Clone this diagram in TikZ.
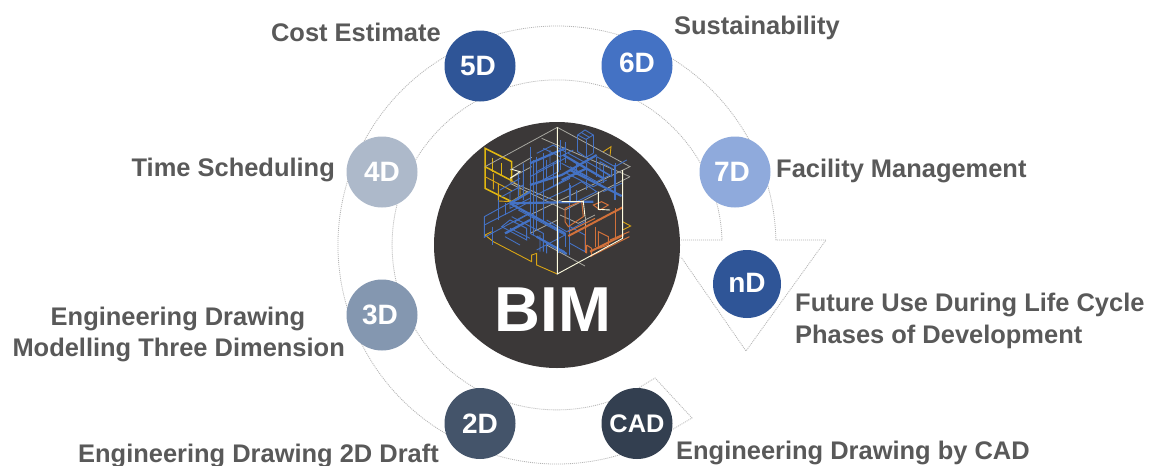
\documentclass[tikz,border=0pt]{standalone}
\usepackage{fontspec}
\setmainfont{Liberation Sans}
\definecolor{txt}{HTML}{595959}
\definecolor{hub}{HTML}{3B3838}
\definecolor{ringc}{HTML}{B5B5B5}
\definecolor{bl}{HTML}{4472C4}
\definecolor{yl}{HTML}{D9A514}
\definecolor{ora}{HTML}{D2713A}
\definecolor{fr}{HTML}{A8A8A0}
\definecolor{c5}{HTML}{2F5597}
\definecolor{c7}{HTML}{8FAADC}
\definecolor{c4}{HTML}{ADB9CA}
\definecolor{c3}{HTML}{8497B0}
\definecolor{c2}{HTML}{44546A}
\definecolor{cc}{HTML}{333F50}
\newcommand{\dt}[3]{\raisebox{\dimexpr #2pt*2\relax}{\kern\dimexpr #1pt*2\relax #3}}
\tikzset{
  lab/.style={font=\fontsize{25.45}{28}\selectfont\bfseries,text=txt,inner sep=0pt,anchor=base west},
  labr/.style={lab,anchor=base east},
  dim/.style={circle,minimum size=71pt,inner sep=0pt,font=\fontsize{28}{30}\selectfont\bfseries,text=white},
  ring/.style={draw=ringc,line width=0.8pt,dash pattern=on 1pt off 1pt},
  pb/.style={draw=bl,line width=0.9pt},
  pB/.style={draw=bl,line width=2.2pt},
  py/.style={draw=yl,line width=0.9pt},
  pY/.style={draw=yl!80!yellow,line width=1.5pt},
  po/.style={draw=ora,line width=1pt},
  pO/.style={draw=ora,line width=2pt},
  pf/.style={draw=fr,line width=0.8pt},
  pw/.style={draw=white!88!yellow,line width=0.9pt}
}
\begin{document}
\begin{tikzpicture}[x=1pt,y=1pt,yscale=-1]
\useasboundingbox (0,0) rectangle (1149,466);
\fill[white] (0,0) rectangle (1149,466);
% cycle arrow outline
\draw[ring] (681,240) -- (722,240) arc[start angle=358.3,end angle=63,radius=165pt] -- (655,378) -- (692,418) -- (645,445.5) arc[start angle=66.3,end angle=358.7,radius=219pt] -- (826,240) -- (746,351) -- (681,257);
% hub
\node[circle,fill=hub,minimum size=246pt,inner sep=0pt] (hub) at (557,245) {};
\begin{scope}[shift={(430,120)},scale=1/3]
% yellow
\draw[py] (165,345)--(190,365)--(305,425)--(305,405)--(320,400)--(320,435)--(382,462);
\draw[py] (165,345)--(185,335);
\draw[py] (520,95)--(543,80)--(540,108);
\draw[py] (578,305)--(602,318)--(578,330);
\draw[pY] (165,85)--(245,125)--(245,182)--(165,140)--cycle;
\draw[pY] (165,140)--(165,205)--(245,245)--(295,215);
\draw[py] (245,182)--(270,200)--(270,225);
\draw[pY] (188,115)--(188,155) (215,130)--(215,165);
\draw[py] (205,190)--(205,243)--(245,245);
\draw[py] (190,160)--(190,208) (165,170)--(245,212);
% frame
\draw[pf] (165,140)--(382,22)--(600,140)--(382,245)--(240,185);
\draw[pf] (600,170)--(405,270)--(240,190);
\draw[pf] (382,245)--(300,285) (240,150)--(305,112);
\draw[pf] (240,175)--(305,140);
\draw[pf] (335,55)--(600,170);
\draw[pf] (350,375)--(465,438);
\draw[pf] (382,300)--(300,340);
\draw[pf] (465,290)--(465,330);
\draw[pf] (390,285)--(445,310)--(495,285);
% blue thin
\draw[pb] (300,80)--(300,340) (320,110)--(320,330) (340,100)--(340,305) (310,120)--(310,345);
\draw[pb] (390,60)--(390,150) (405,65)--(405,130) (418,190)--(418,405);
\draw[pb] (443,45)--(465,30)--(490,45)--(468,58)--cycle;
\draw[pb] (443,45)--(443,95) (468,58)--(468,112) (490,45)--(490,100);
\draw[pb] (443,95)--(468,112)--(490,100);
\draw[pb] (455,38)--(478,52);
\draw[pb] (163,290)--(163,352)--(300,278) (163,290)--(300,215) (163,315)--(300,245);
\draw[pb] (188,320)--(188,375) (205,240)--(205,300) (225,250)--(225,285);
\draw[pb] (215,320)--(290,360)--(290,325)--(240,300)--cycle;
\draw[pb] (230,340)--(300,300) (225,350)--(270,375) (240,325)--(300,355);
\draw[pb] (245,290)--(340,340)--(340,395);
\draw[pb] (300,340)--(405,395);
\draw[pb] (265,270)--(405,345) (255,305)--(300,280);
\draw[pb] (350,300)--(410,335)--(465,305);
\draw[pb] (320,190)--(385,155)--(385,120)--(320,155)--cycle;
\draw[pb] (350,210)--(420,175) (360,130)--(360,90);
\draw[pb] (320,100)--(370,75)--(405,95) (340,85)--(390,110)--(430,90);
\draw[pb] (300,170)--(405,115) (320,225)--(440,160) (345,240)--(420,205);
\draw[pb] (395,130)--(470,170)--(470,130)--(415,100);
\draw[pb] (420,140)--(500,185)--(540,165)--(470,125);
\draw[pb] (430,125)--(520,175) (410,160)--(490,200)--(530,180);
\draw[pb] (440,165)--(440,125) (470,180)--(470,210);
\draw[pb] (500,110)--(500,170) (520,130)--(520,190) (555,130)--(555,170);
\draw[pb] (500,110)--(555,140)--(590,120) (510,125)--(545,145)--(545,170)--(510,150)--cycle;
\draw[pb] (400,215)--(455,185)--(500,215)--(440,245);
\draw[pb] (350,180)--(350,120) (420,245)--(420,195) (370,130)--(370,200);
\draw[pb] (210,210)--(270,175) (215,230)--(280,195) (265,160)--(265,240) (280,130)--(280,240);
\draw[pb] (240,215)--(240,265)--(300,235);
\draw[pb] (420,370)--(465,395)--(465,345)--(420,320);
\draw[pb] (405,380)--(405,340) (385,330)--(385,400);
\draw[pb] (320,390)--(405,345) (350,400)--(350,365) (330,345)--(330,395);
\draw[pb] (520,215)--(575,190) (440,210)--(440,250);
% blue thick
\draw[pB] (300,130)--(405,85);
\draw[pB] (300,195)--(395,165)--(500,105);
\draw[pB] (420,150)--(575,228);
\draw[pB] (400,105)--(520,175);
\draw[pB] (240,250)--(405,340);
\draw[pB] (240,250)--(490,245);
\draw[pB] (320,350)--(410,402);
\draw[pB] (240,250)--(300,215);
\draw[pB] (555,135)--(555,240);
\draw[pB] (395,180)--(470,145);
\draw[pB] (225,340)--(300,300);
% orange
\draw[po] (405,265)--(455,243)--(460,290)--(415,320)--(405,305)--cycle;
\draw[pO] (415,348)--(578,262);
\draw[po] (415,335)--(495,295);
\draw[po] (490,255)--(515,245)--(535,255)--(510,270)--cycle;
\draw[po] (465,320)--(465,400) (495,320)--(495,380) (555,265)--(555,360);
\draw[po] (505,335)--(535,350)--(535,375)--(505,385)--cycle;
\draw[po] (470,375)--(485,385)--(485,410) (470,375)--(470,400);
\draw[pO] (480,395)--(580,345);
\draw[po] (480,410)--(598,350) (540,360)--(598,335);
% frame whites
\draw[pw] (382,22)--(382,462)--(578,355)--(578,150);
\draw[pw] (505,215)--(505,268)--(540,270) (395,245)--(460,245)--(465,290);
\draw[pw] (245,148)--(270,155)--(240,175);
\end{scope}
\node[font=\fontsize{63.5}{66}\selectfont\bfseries,text=white,inner sep=0pt,anchor=base] (bim) at (553,331) {BIM};
% dimension circles
\node[dim,fill=c5] (d5) at (480,66) {\dt{-2}{-2}{5D}};
\node[dim,fill=bl] (d6) at (637,65.5) {\dt{0}{2.5}{6D}};
\node[dim,fill=c7] (d7) at (735,172) {\dt{-3}{0}{7D}};
\node[dim,fill=c4] (d4) at (382,172) {\dt{0}{-3}{4D}};
\node[dim,fill=c3] (d3) at (382,315) {\dt{-2}{-1}{3D}};
\node[dim,fill=c2] (d2) at (480,423.5) {\dt{0}{-4.5}{2D}};
\node[dim,fill=cc,font=\fontsize{25.4}{28}\selectfont\bfseries] (dc) at (637,423.5) {\dt{0}{-2.5}{CAD}};
\node[dim,minimum size=68pt,fill=c5] (dn) at (747,284) {\dt{0}{1}{nD}};
% labels
\node[labr] (l5) at (441,41) {Cost Estimate};
\node[lab] (l6) at (674,34) {Sustainability};
\node[lab] (l7) at (776,177) {Facility Management};
\node[labr] (l4) at (335,176) {Time Scheduling};
\node[lab,anchor=base] (l3a) at (178,325) {Engineering Drawing};
\node[labr] (l3b) at (345,356) {Modelling Three Dimension};
\node[labr] (l2) at (439,462.5) {Engineering Drawing 2D Draft};
\node[lab] (lc) at (676,459) {Engineering Drawing by CAD};
\node[lab] (lna) at (795,311) {Future Use During Life Cycle};
\node[lab] (lnb) at (795,343) {Phases of Development};
\end{tikzpicture}
\end{document}
